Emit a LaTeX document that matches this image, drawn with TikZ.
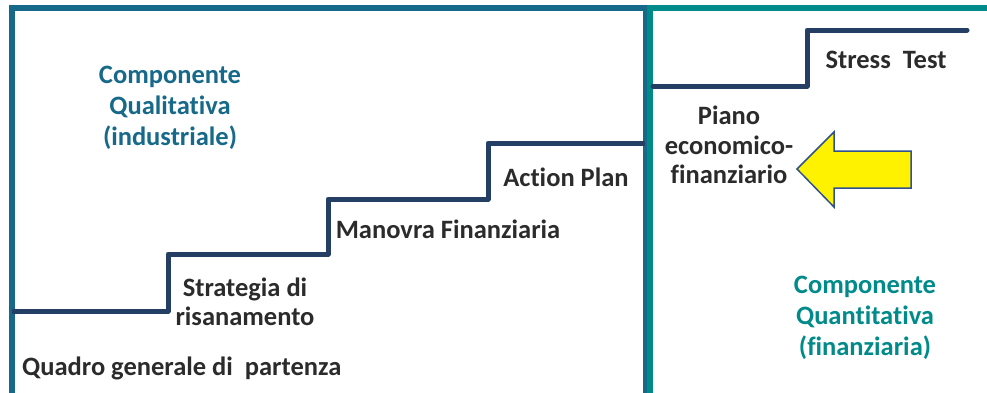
\documentclass[tikz,border=0pt]{standalone}
\usepackage{fontspec}
\setmainfont{Carlito}[Ligatures={NoCommon}]
\definecolor{boxblue}{HTML}{17698A}
\definecolor{boxteal}{HTML}{008B8A}
\definecolor{stairnavy}{HTML}{243F63}
\definecolor{txtdark}{HTML}{2B2B2B}
\definecolor{arrowline}{HTML}{2F528F}
\begin{document}
\begin{tikzpicture}[x=1pt,y=-1pt,
  lbl/.style={font=\fontsize{26.5}{29.5}\selectfont\bfseries, text=txtdark, align=center, inner sep=0pt},
  comp/.style={font=\fontsize{26.5}{31}\selectfont\bfseries, align=center, inner sep=0pt},
  stair/.style={draw=stairnavy, line width=5pt, line join=round, line cap=round},
  frame/.style={line width=6pt}]
\useasboundingbox (0,0) rectangle (987,392);
% frames
\coordinate (lbl) at (12,400);
\coordinate (ltl) at (12,8);
\coordinate (ltr) at (646,8);
\coordinate (lbr) at (646,400);
\draw[frame, draw=boxblue] (lbl) -- (ltl) -- (ltr) -- (lbr);
\coordinate (rbl) at (650,400);
\coordinate (rtl) at (650,8);
\coordinate (rtr) at (995,8);
\draw[frame, draw=boxteal, line join=miter] (rbl) -- (rtl) -- (rtr);
% stairs left
\coordinate (s0) at (12,311);
\coordinate (s1) at (168,311);
\coordinate (s2) at (168,254);
\coordinate (s3) at (328,254);
\coordinate (s4) at (328,199);
\coordinate (s5) at (488,199);
\coordinate (s6) at (488,143);
\coordinate (s7) at (645,143);
\draw[stair, line cap=butt] (s0) -- (s1) -- (s2) -- (s3) -- (s4) -- (s5) -- (s6) -- (s7);
% stairs right
\coordinate (r0) at (653,86);
\coordinate (r1) at (807,86);
\coordinate (r2) at (807,30);
\coordinate (r3) at (967,30);
\draw[stair] (r0) -- (r1) -- (r2) -- (r3);
% arrow
\draw[draw=arrowline, fill=yellow, line width=1.5pt, line join=miter]
  (797,169) -- (834,132) -- (834,151) -- (911,151) -- (911,188) -- (834,188) -- (834,207) -- cycle;
% labels
\node[comp, text=boxblue] (qual) at (170,108) {Componente\\Qualitativa\\(industriale)};
\node[comp, text=boxteal] (quant) at (865,318) {Componente\\Quantitativa\\(finanziaria)};
\node[lbl] (strat) at (245,302) {Strategia di\\risanamento};
\node[lbl] (manovra) at (448,229) {Manovra Finanziaria};
\node[lbl] (action) at (566,177) {Action Plan};
\node[lbl, anchor=west] (quadro) at (22,368) {Quadro generale di\ \ partenza};
\node[lbl] (piano) at (729,145) {Piano\\economico-\\finanziario};
\node[lbl] (stress) at (886,60) {Stress\ \ Test};
\end{tikzpicture}
\end{document}
